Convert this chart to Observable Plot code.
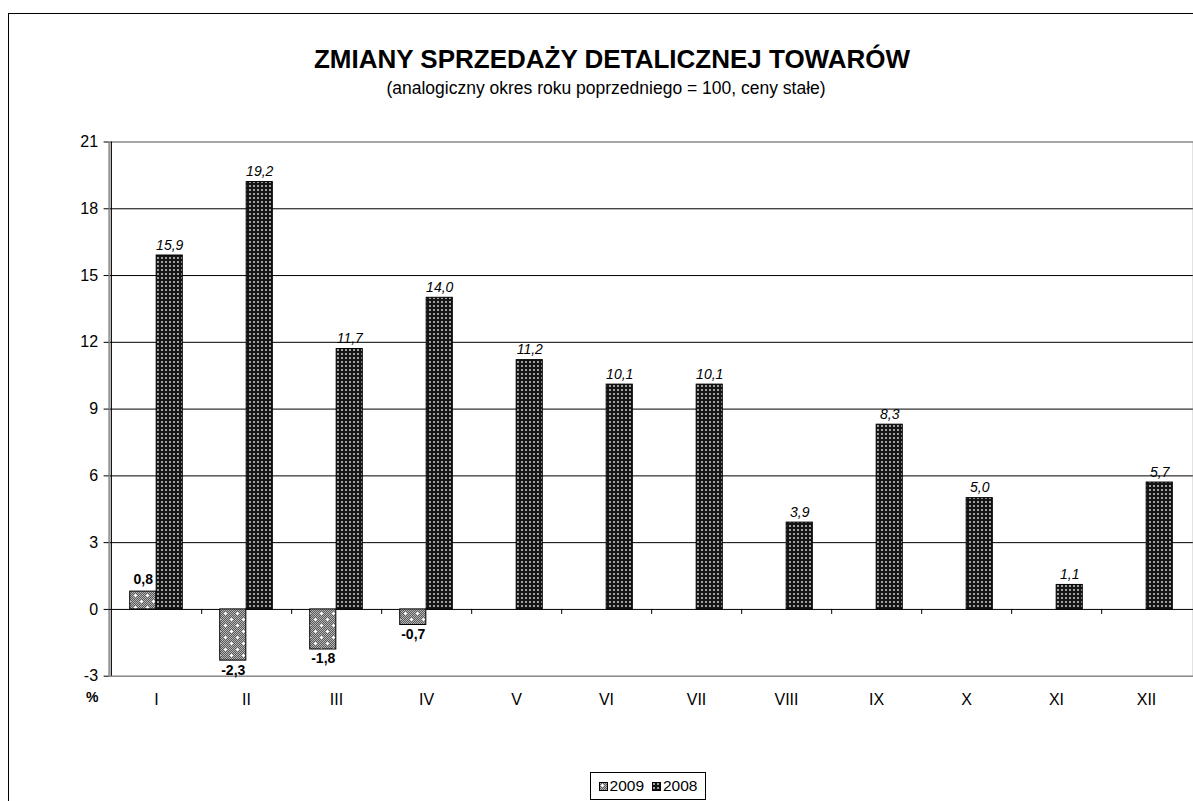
<!DOCTYPE html>
<html>
<head>
<meta charset="utf-8">
<script src="https://cdn.jsdelivr.net/npm/d3@7"></script>
<script src="https://cdn.jsdelivr.net/npm/@observablehq/plot@0.6"></script>
<style>
  html, body { margin: 0; padding: 0; background: #fff; overflow: hidden; width: 1193px; height: 801px; }
  body { font-family: "Liberation Sans", Arial, sans-serif; position: relative; }
  #frame { position: absolute; left: 8px; top: 13px; width: 1300px; height: 900px; border-left: 1px solid #000; border-top: 1px solid #000; }
  #title { position: absolute; left: 0; width: 1224px; top: 44px; text-align: center; font-weight: bold; font-size: 26px; color: #000; }
  #subtitle { position: absolute; left: 0; width: 1212px; top: 78px; text-align: center; font-size: 17.5px; color: #000; }
  #chart { position: absolute; left: 0; top: 100px; }
  #pct { position: absolute; left: 86px; top: 689px; font-weight: bold; font-size: 14px; }
  #legend { position: absolute; left: 590px; top: 772px; width: 116px; height: 28px; border: 1px solid #000; box-sizing: border-box; display: flex; align-items: center; justify-content: center; gap: 4px; font-size: 15.5px; }
  #legend .item { display: flex; align-items: center; gap: 2px; margin: 0 2px; }
  #legend svg { display: block; }
</style>
</head>
<body>
<div id="frame"></div>
<div id="title">ZMIANY SPRZEDAŻY DETALICZNEJ TOWARÓW</div>
<div id="subtitle">(analogiczny okres roku poprzedniego = 100, ceny stałe)</div>
<div id="chart"></div>
<div id="pct">%</div>
<div id="legend"></div>
<script>
// ---- data ----
const months = ["I", "II", "III", "IV", "V", "VI", "VII", "VIII", "IX", "X", "XI", "XII"];
const series = ["2009", "2008"];
const values2009 = [0.8, -2.3, -1.8, -0.7];
const values2008 = [15.9, 19.2, 11.7, 14.0, 11.2, 10.1, 10.1, 3.9, 8.3, 5.0, 1.1, 5.7];
const yTicks = [-3, 0, 3, 6, 9, 12, 15, 18, 21];
const gridTicks = [3, 6, 9, 12, 15, 18];

const data2009 = values2009.map((v, i) => ({month: months[i], value: v, series: "2009"}));
const data2008 = values2008.map((v, i) => ({month: months[i], value: v, series: "2008"}));
const fmt = v => v.toFixed(1).replace(".", ",");

// ---- layout ----
const width = 1193, height = 640;
const marginLeft = 108.6, marginRight = 0, marginTop = 41.5, marginBottom = 64.3;
const bw = (width - marginLeft - marginRight) / months.length;
const barW = bw * 0.293;
const pad = (bw - 2 * barW) / 2;
const zeroToBottom = (height - marginTop - marginBottom) * 3 / 24;

const chart = Plot.plot({
  width, height, marginLeft, marginRight, marginTop, marginBottom,
  style: {fontFamily: "'Liberation Sans', Arial, sans-serif", fontSize: "16px", color: "#000", background: "transparent"},
  x: {domain: months, padding: 0, label: null},
  y: {domain: [-3, 21], label: null},
  marks: [
    Plot.gridY(gridTicks, {stroke: "#000", strokeOpacity: 1, strokeWidth: 1}),
    Plot.frame({stroke: "#888", strokeWidth: 1.5}),
    Plot.ruleY([0], {stroke: "#000", strokeWidth: 1}),
    // category separators on the zero line
    Plot.ruleX(months.slice(0, -1), {x: d => d, y1: 0, y2: -3, dx: bw / 2, insetBottom: zeroToBottom - 5, stroke: "#000"}),
    // left axis line
    Plot.ruleX([months[0]], {x: d => d, y1: -3, y2: 21, dx: -bw / 2, stroke: "#000", strokeWidth: 1.2}),
    Plot.barY(data2009, {x: "month", y: "value", fill: "url(#p2009)", stroke: "#000", strokeWidth: 1, insetLeft: pad, insetRight: bw - pad - barW}),
    Plot.barY(data2008, {x: "month", y: "value", fill: "url(#p2008)", stroke: "#000", strokeWidth: 1, insetLeft: pad + barW, insetRight: pad}),
    Plot.text(data2008, {x: "month", y: "value", text: d => fmt(d.value), dx: barW / 2, dy: -6, lineAnchor: "bottom", fontStyle: "italic", fontSize: 14, fill: "#000"}),
    Plot.text(data2009, {x: "month", y: "value", text: d => fmt(d.value), dx: -barW / 2, dy: -8, lineAnchor: "bottom", filter: d => d.value >= 0, fontWeight: "bold", fontSize: 14, fill: "#000"}),
    Plot.text(data2009, {x: "month", y: "value", text: d => fmt(d.value), dx: -barW / 2, dy: 4, lineAnchor: "top", filter: d => d.value < 0, fontWeight: "bold", fontSize: 14, fill: "#000"}),
    Plot.axisY({ticks: yTicks, tickSize: 5, tickPadding: 6, tickFormat: d => String(d), fontSize: 16}),
    Plot.axisX({tickSize: 0, tickPadding: 17, fontSize: 16})
  ]
});

document.getElementById("chart").append(chart);

// ---- patterns ----
const svgNS = "http://www.w3.org/2000/svg";
const defs = document.createElementNS(svgNS, "defs");
defs.innerHTML = `
  <pattern id="p2008" width="4" height="4" patternUnits="userSpaceOnUse">
    <rect width="4" height="4" fill="#151515"/>
    <rect x="1" y="1" width="2" height="2" fill="#a0a0a0"/>
  </pattern>
  <pattern id="c2009" width="2" height="2" patternUnits="userSpaceOnUse">
    <rect width="2" height="2" fill="#5a5a5a"/>
    <rect x="0" y="0" width="1" height="1" fill="#b4b4b4"/>
    <rect x="1" y="1" width="1" height="1" fill="#b4b4b4"/>
  </pattern>
  <pattern id="p2009" width="12" height="12" patternUnits="userSpaceOnUse">
    <rect width="12" height="12" fill="url(#c2009)"/>
    <rect x="2" y="3" width="3" height="1" fill="#fff"/>
    <rect x="3" y="2" width="1" height="3" fill="#fff"/>
    <rect x="8" y="9" width="3" height="1" fill="#fff"/>
    <rect x="9" y="8" width="1" height="3" fill="#fff"/>
  </pattern>`;
chart.insertBefore(defs, chart.firstChild);

// ---- legend ----
const legend = document.getElementById("legend");
series.forEach(s => {
  const item = document.createElement("div");
  item.className = "item";
  item.innerHTML = `<svg width="9" height="9"><rect x="0.5" y="0.5" width="8" height="8" fill="url(#p${s})" stroke="#000"/></svg><span>${s}</span>`;
  legend.append(item);
});
</script>
</body>
</html>
